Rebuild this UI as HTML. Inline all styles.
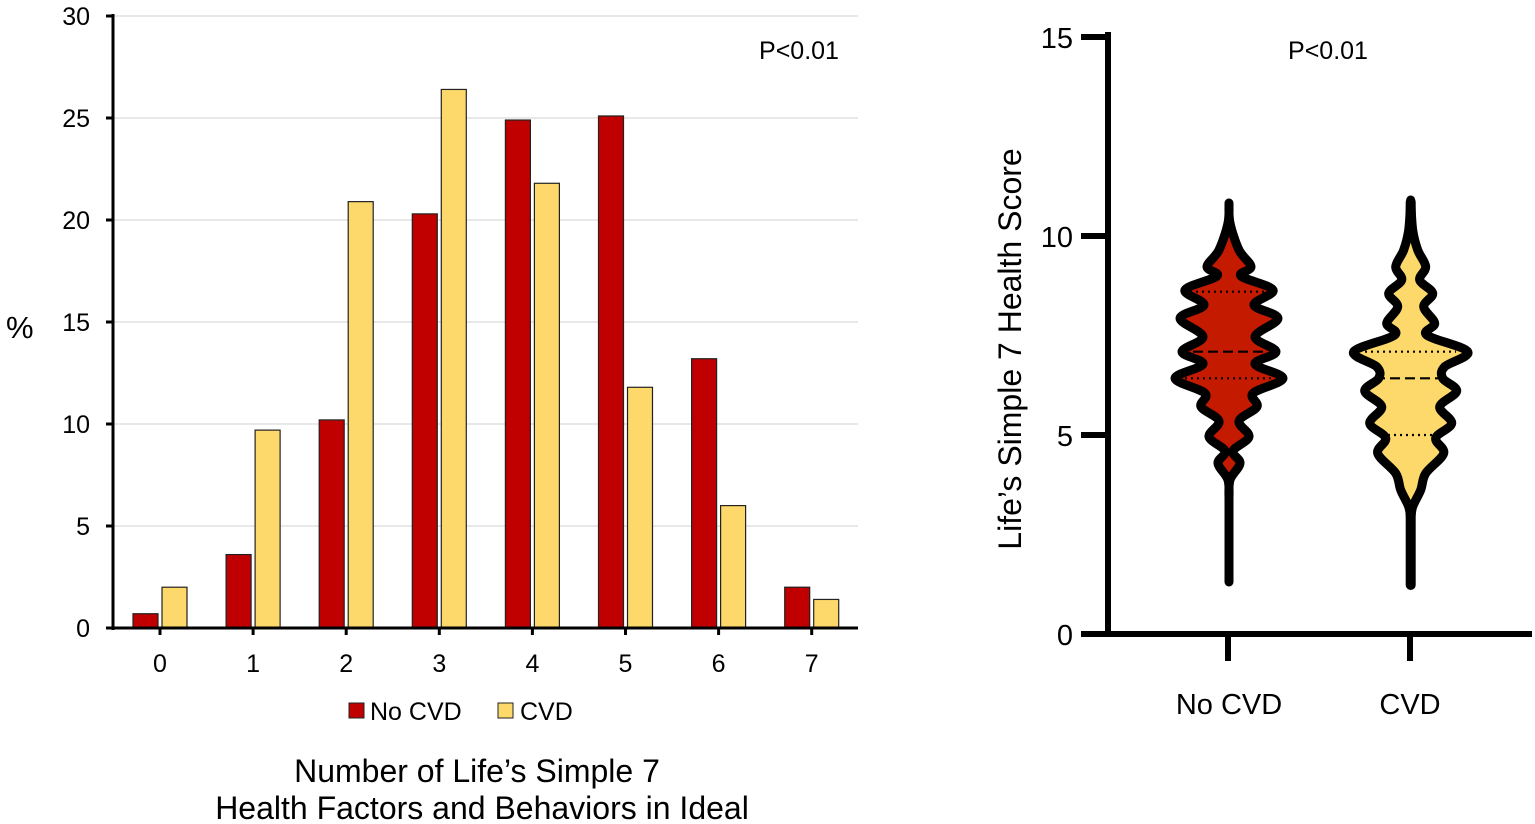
<!DOCTYPE html>
<html><head><style>
html,body{margin:0;padding:0;background:#fff;}
svg{display:block;font-family:"Liberation Sans",Arial,sans-serif;}
</style></head><body>
<svg id="s" width="1535" height="824" viewBox="0 0 1535 824" xmlns="http://www.w3.org/2000/svg">
<g stroke="#d9d9d9" stroke-width="1.2">
<line x1="113" x2="858" y1="16" y2="16"/><line x1="113" x2="858" y1="118" y2="118"/>
<line x1="113" x2="858" y1="220" y2="220"/><line x1="113" x2="858" y1="322" y2="322"/>
<line x1="113" x2="858" y1="424" y2="424"/><line x1="113" x2="858" y1="526" y2="526"/>
</g>
<g id="bars" stroke="#222" stroke-width="1.2"></g>
<g stroke="#000" stroke-width="3">
<line x1="113" y1="14" x2="113" y2="630"/><line x1="111" y1="628" x2="858" y2="628"/>
<line x1="106" x2="113" y1="16" y2="16"/><line x1="106" x2="113" y1="118" y2="118"/>
<line x1="106" x2="113" y1="220" y2="220"/><line x1="106" x2="113" y1="322" y2="322"/>
<line x1="106" x2="113" y1="424" y2="424"/><line x1="106" x2="113" y1="526" y2="526"/>
<line x1="106" x2="113" y1="628" y2="628"/>
</g>
<g id="xt" stroke="#000" stroke-width="3"></g>
<g font-size="25" text-anchor="end" fill="#000">
<text x="90" y="25">30</text><text x="90" y="127">25</text><text x="90" y="229">20</text>
<text x="90" y="331">15</text><text x="90" y="433">10</text><text x="90" y="535">5</text><text x="90" y="637">0</text>
</g>
<g id="xl" font-size="25" text-anchor="middle"></g>
<text x="6" y="338" font-size="31">%</text>
<text x="799" y="59" font-size="25" text-anchor="middle">P&lt;0.01</text>
<rect x="349" y="703" width="15" height="15" fill="#c00000" stroke="#222"/>
<text x="370" y="720" font-size="25">No CVD</text>
<rect x="498" y="703" width="15" height="15" fill="#fdd96b" stroke="#222"/>
<text x="520" y="720" font-size="25">CVD</text>
<text x="477" y="782" font-size="32" text-anchor="middle">Number of Life’s Simple 7</text>
<text x="482" y="819" font-size="32" text-anchor="middle">Health Factors and Behaviors in Ideal</text>

<g stroke="#000" stroke-width="6">
<line x1="1108" y1="32" x2="1108" y2="637"/><line x1="1105" y1="634" x2="1532" y2="634"/>
<line x1="1081" x2="1108" y1="37" y2="37"/><line x1="1081" x2="1108" y1="236" y2="236"/>
<line x1="1081" x2="1108" y1="435" y2="435"/><line x1="1081" x2="1108" y1="634" y2="634"/>
<line x1="1228" x2="1228" y1="634" y2="661"/><line x1="1410" x2="1410" y1="634" y2="661"/>
</g>
<g font-size="29" text-anchor="end">
<text x="1073" y="48">15</text><text x="1073" y="247">10</text><text x="1073" y="446">5</text><text x="1073" y="645">0</text>
</g>
<text x="1328" y="59" font-size="25" text-anchor="middle">P&lt;0.01</text>
<text x="1229" y="714" font-size="29" text-anchor="middle">No CVD</text>
<text x="1410" y="714" font-size="29" text-anchor="middle">CVD</text>
<text transform="translate(1021,349) rotate(-90)" font-size="32" text-anchor="middle">Life’s Simple 7 Health Score</text>
<g id="vio"></g>
</svg>
<script>
var NS="http://www.w3.org/2000/svg";
function el(t,a,p){var e=document.createElementNS(NS,t);for(var k in a)e.setAttribute(k,a[k]);if(p)p.appendChild(e);return e;}
var red=[0.7,3.6,10.2,20.3,24.9,25.1,13.2,2.0], yel=[2.0,9.7,20.9,26.4,21.8,11.8,6.0,1.4];
var b=document.getElementById('bars'),xt=document.getElementById('xt'),xl=document.getElementById('xl');
for(var i=0;i<8;i++){var c=160+i*93.1;
 el('rect',{x:c-27,y:628-red[i]*20.4,width:25,height:red[i]*20.4,fill:'#c00000'},b);
 el('rect',{x:c+2,y:628-yel[i]*20.4,width:25,height:yel[i]*20.4,fill:'#fdd96b'},b);
 el('line',{x1:c,x2:c,y1:628,y2:635},xt);
 var t=el('text',{x:c,y:672},xl);t.textContent=i;}
function path(cx,pts){
 function side(sg){return pts.map(function(q){return [cx+sg*q[1],q[0]];});}
 function cr(p){var d="";for(var i=0;i<p.length-1;i++){var p0=p[Math.max(0,i-1)],p1=p[i],p2=p[i+1],p3=p[Math.min(p.length-1,i+2)];
  var c1=[p1[0]+(p2[0]-p0[0])/6,p1[1]+(p2[1]-p0[1])/6],c2=[p2[0]-(p3[0]-p1[0])/6,p2[1]-(p3[1]-p1[1])/6];
  d+=" C"+c1[0]+","+c1[1]+" "+c2[0]+","+c2[1]+" "+p2[0]+","+p2[1];}return d;}
 var r=side(1),l=side(-1).reverse();
 return "M"+r[0][0]+","+r[0][1]+cr(r)+" L"+l[0][0]+","+l[0][1]+cr(l)+"Z";}
var v=document.getElementById('vio');
var A=[[203,0],[223,1],[250,10],[266.7,22],[276,12],[290,44],[305,25],[318.3,49],[336.7,26],[351.7,47],[364,26],[378.3,54],[393.3,24],[406.7,28],[421,10],[436.7,20],[451,4],[463.3,11],[480,1],[500,0]];
var B=[[200,0],[230,2],[250,7],[266.7,15],[280,9],[293.3,22],[306.7,13],[323.3,24],[335,16],[351.7,57],[366.7,34],[378.3,32],[391,46],[406.7,29],[423.3,41],[438,25],[453.3,33],[473.3,15],[490,10],[506.7,2],[520,0]];
el('line',{x1:1229,x2:1229,y1:205,y2:582,stroke:'#000','stroke-width':9,'stroke-linecap':'round'},v);
el('line',{x1:1410.7,x2:1410.7,y1:202,y2:585,stroke:'#000','stroke-width':10,'stroke-linecap':'round'},v);
el('path',{d:path(1229,A),fill:'#c41a00',stroke:'#000','stroke-width':9,'stroke-linejoin':'round'},v);
el('path',{d:path(1410.7,B),fill:'#fdd96b',stroke:'#000','stroke-width':9,'stroke-linejoin':'round'},v);
function hl(x1,x2,y,dash){el('line',{x1:x1,x2:x2,y1:y,y2:y,stroke:'#000','stroke-width':2.2,'stroke-dasharray':dash},v);}
hl(1190,1268,291.7,'2 4');hl(1193,1265,351.7,'10 5');hl(1185,1272,378.3,'2 4');
hl(1365,1456,351.7,'2 4');hl(1375,1448,378.3,'10 5');hl(1382,1441,435,'2 4');
</script>
</body></html>
